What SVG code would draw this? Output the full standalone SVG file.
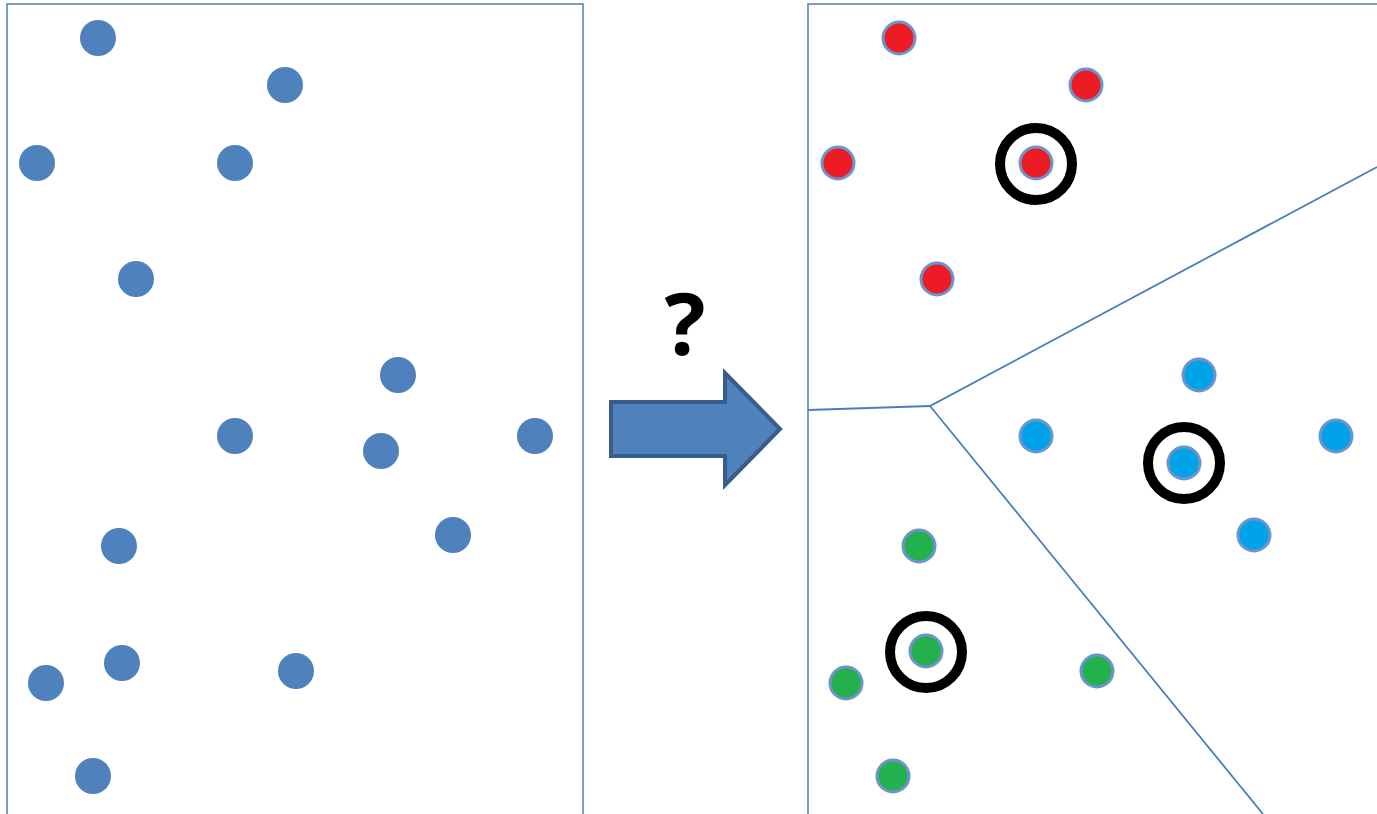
<svg xmlns="http://www.w3.org/2000/svg" width="1377" height="814" viewBox="0 0 1377 814">
  <defs>
    <style>
      .panel { fill: none; stroke: #4a7ebb; stroke-width: 1.5; }
      .pt { fill: #4f81bd; }
      .cl { stroke: #6b95cc; stroke-width: 3; }
      .red { fill: #ed1c24; }
      .blue { fill: #00a2e8; }
      .green { fill: #22b14c; }
      .ring { fill: none; stroke: #000; stroke-width: 10; }
      .edge { fill: none; stroke: #4a7ebb; stroke-width: 1.8; }
      .q { font-family: "Open Sans", "Liberation Sans", sans-serif; font-weight: bold; font-size: 86px; fill: #000; }
    </style>
  </defs>
  <rect width="1377" height="814" fill="#fff"/>

  <!-- unlabelled points -->
  <g id="input-panel">
    <rect class="panel" x="7" y="4" width="576" height="830"/>
    <circle class="pt" cx="98" cy="38" r="18"/>
    <circle class="pt" cx="285" cy="85" r="18"/>
    <circle class="pt" cx="37" cy="163" r="18"/>
    <circle class="pt" cx="235" cy="163" r="18"/>
    <circle class="pt" cx="136" cy="279" r="18"/>
    <circle class="pt" cx="398" cy="375" r="18"/>
    <circle class="pt" cx="235" cy="436" r="18"/>
    <circle class="pt" cx="381" cy="451" r="18"/>
    <circle class="pt" cx="535" cy="436" r="18"/>
    <circle class="pt" cx="453" cy="535" r="18"/>
    <circle class="pt" cx="119" cy="546" r="18"/>
    <circle class="pt" cx="122" cy="663" r="18"/>
    <circle class="pt" cx="46" cy="683" r="18"/>
    <circle class="pt" cx="296" cy="671" r="18"/>
    <circle class="pt" cx="93" cy="776" r="18"/>
  </g>

  <!-- transition arrow -->
  <g id="arrow">
    <path d="M611 402 H725 V373 L780 429 L725 485 V456 H611 Z" fill="#4f81bd" stroke="#385d8a" stroke-width="4" stroke-linejoin="miter"/>
    <text class="q" x="685" y="355" text-anchor="middle">?</text>
  </g>

  <!-- clustered points -->
  <g id="output-panel">
    <rect class="panel" x="808" y="4" width="600" height="830"/>
  </g>

  <g id="boundaries">
    <polyline class="edge" points="808,410 930,406 1377,167"/>
    <line class="edge" x1="930" y1="406" x2="1263" y2="814"/>
  </g>

  <g id="cluster-red">
    <circle class="cl red" cx="899" cy="38" r="16"/>
    <circle class="cl red" cx="1086" cy="85" r="16"/>
    <circle class="cl red" cx="838" cy="163" r="16"/>
    <circle class="cl red" cx="1036" cy="163" r="16"/>
    <circle class="cl red" cx="937" cy="279" r="16"/>
    <circle class="ring" cx="1036" cy="164" r="36"/>
  </g>

  <g id="cluster-blue">
    <circle class="cl blue" cx="1199" cy="375" r="16"/>
    <circle class="cl blue" cx="1036" cy="436" r="16"/>
    <circle class="cl blue" cx="1184" cy="463" r="16"/>
    <circle class="cl blue" cx="1336" cy="436" r="16"/>
    <circle class="cl blue" cx="1254" cy="535" r="16"/>
    <circle class="ring" cx="1184" cy="463" r="36"/>
  </g>

  <g id="cluster-green">
    <circle class="cl green" cx="919" cy="546" r="16"/>
    <circle class="cl green" cx="926" cy="651" r="16"/>
    <circle class="cl green" cx="846" cy="683" r="16"/>
    <circle class="cl green" cx="1097" cy="671" r="16"/>
    <circle class="cl green" cx="893" cy="776" r="16"/>
    <circle class="ring" cx="926" cy="652" r="36"/>
  </g>
</svg>
